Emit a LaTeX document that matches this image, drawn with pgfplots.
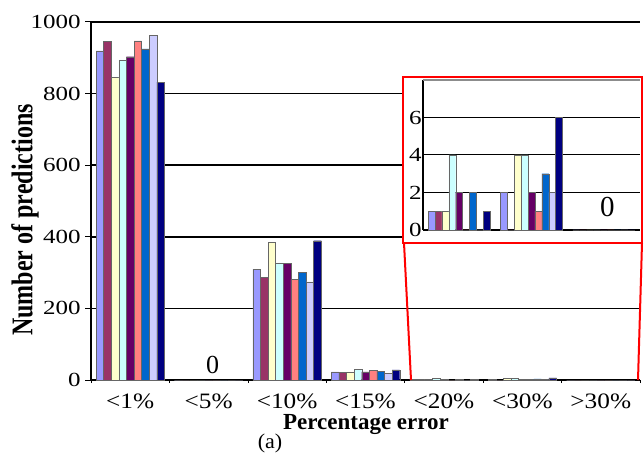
\documentclass[border=0pt]{standalone}
\usepackage{pgfplots}
\pgfplotsset{compat=1.18}
\usepackage{pgfplotstable}
\usepackage{fontspec}
\setmainfont{Liberation Serif}

\definecolor{c1}{HTML}{9999FF}
\definecolor{c2}{HTML}{993366}
\definecolor{c3}{HTML}{FFFFCC}
\definecolor{c4}{HTML}{CCFFFF}
\definecolor{c5}{HTML}{660066}
\definecolor{c6}{HTML}{FF8080}
\definecolor{c7}{HTML}{0066CC}
\definecolor{c8}{HTML}{CCCCFF}
\definecolor{c9}{HTML}{000080}

\pgfplotstableread{
x s1 s2 s3 s4 s5 s6 s7 s8 s9
0 919 945 845 894 903 947 925 962 832
1 0 0 0 0 0 0 0 0 0
2 310 287 384 327 325 281 300 274 389
3 23 21 23 29 23 26 25 19 28
4 1 1 1 4 2 0 2 0 1
5 2 0 4 4 2 1 3 2 6
6 0 0 0 0 0 0 0 0 0
}\data

\newcommand\tickfont{\fontsize{20}{22}\selectfont}
\newcommand\xtickfont{\fontsize{22}{24}\selectfont}
\newcommand\itickfont{\fontsize{20}{22}\selectfont}

\begin{document}
\begin{tikzpicture}[x=1pt,y=1pt]
\useasboundingbox (0,0) rectangle (644,455);

\begin{axis}[
  at={(91pt,75pt)}, anchor=south west,
  scale only axis, width=549pt, height=358pt,
  xmin=-0.5, xmax=6.5, ymin=0, ymax=1000,
  ybar=0pt, bar width=7.6pt,
  axis x line=bottom, axis y line=left,
  x axis line style={-, line width=1.5pt},
  y axis line style={-, line width=2.5pt},
  xtick={0,...,6},
  xticklabels={\textless1\%,\textless5\%,\textless10\%,\textless15\%,\textless20\%,\textless30\%,\textgreater30\%},
  minor xtick={-0.5,0.5,...,6.5},
  major x tick style={draw=none},
  minor x tick style={black, line width=0.6pt},
  minor tick length=3pt,
  ytick={0,200,...,1000},
  tick align=outside,
  major tick length=6pt,
  y tick style={black, line width=1pt},
  ymajorgrids,
  grid style={black, line width=1.5pt},
  /pgf/number format/1000 sep={},
  /pgf/number format/assume math mode=true,
  xticklabel style={font=\xtickfont, xscale=1.15, anchor=base, yshift=-22pt, inner sep=0pt, text depth=0pt, text height=14pt},
  yticklabel style={font=\tickfont, xscale=1.25},
  every axis plot/.append style={draw=black!60, line width=0.4pt},
  clip=false,
]
\addplot[fill=c1] table[x=x,y=s1]{\data};
\addplot[fill=c2] table[x=x,y=s2]{\data};
\addplot[fill=c3] table[x=x,y=s3]{\data};
\addplot[fill=c4] table[x=x,y=s4]{\data};
\addplot[fill=c5] table[x=x,y=s5]{\data};
\addplot[fill=c6] table[x=x,y=s6]{\data};
\addplot[fill=c7] table[x=x,y=s7]{\data};
\addplot[fill=c8] table[x=x,y=s8]{\data};
\addplot[fill=c9] table[x=x,y=s9]{\data};
\node[font=\fontsize{26}{28}\selectfont, anchor=base, inner sep=0pt] at (axis cs:1.05,17) {0};
\end{axis}

% inset frame and connectors
\draw[red, line width=2.5pt, fill=white] (403,378) rectangle (642,212);
\draw[red, line width=2pt] (404,212) -- (411,75);
\draw[red, line width=2pt] (642,212) -- (638,75);

\begin{axis}[
  at={(423pt,225pt)}, anchor=south west,
  scale only axis, width=217pt, height=150pt,
  xmin=3.5, xmax=6.5, ymin=0, ymax=8,
  ybar=0pt, bar width=6.9pt,
  axis x line=bottom, axis y line=left,
  axis line style={-, black, line width=1.3pt},
  xtick=\empty,
  minor xtick={4.5,5.5},
  minor tick length=10pt,
  minor x tick style={black, line width=1.5pt},
  tick align=center,
  ytick={0,2,4,6},
  major tick length=0pt,
  ymajorgrids,
  grid style={black, line width=1pt},
  extra y ticks={8},
  extra y tick labels={},
  extra y tick style={grid style={black!45, line width=1.2pt}},
  /pgf/number format/assume math mode=true,
  yticklabel style={font=\itickfont, xscale=1.25, inner sep=1pt},
  every axis plot/.append style={draw=black!60, line width=0.4pt},
  restrict x to domain=3.9:6.1,
  clip=false,
]
\addplot[fill=c1] table[x=x,y=s1]{\data};
\addplot[fill=c2] table[x=x,y=s2]{\data};
\addplot[fill=c3] table[x=x,y=s3]{\data};
\addplot[fill=c4] table[x=x,y=s4]{\data};
\addplot[fill=c5] table[x=x,y=s5]{\data};
\addplot[fill=c6] table[x=x,y=s6]{\data};
\addplot[fill=c7] table[x=x,y=s7]{\data};
\addplot[fill=c8] table[x=x,y=s8]{\data};
\addplot[fill=c9] table[x=x,y=s9]{\data};
\node[font=\fontsize{29}{31}\selectfont, anchor=base, inner sep=0pt] at (axis cs:6.05,0.7) {0};
\end{axis}

% axis labels
\node[font=\bfseries\fontsize{23}{25}\selectfont, anchor=base, inner sep=0pt, text height=15pt] at (366,25.5) {Percentage error};
\node[font=\fontsize{21}{23}\selectfont, xscale=1.05, anchor=base, inner sep=0pt] at (270,7) {(a)};
\node[font=\bfseries\fontsize{24}{26}\selectfont, rotate=90, yscale=1.25] at (25,235) {Number of predictions};
\end{tikzpicture}
\end{document}
